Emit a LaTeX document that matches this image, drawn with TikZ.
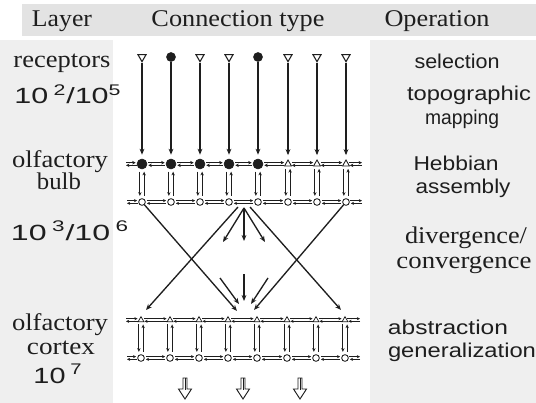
\documentclass[tikz,border=0pt]{standalone}
\usepackage{fontspec}
\usepackage{graphicx}
\setmainfont{Liberation Serif}
\setsansfont{Liberation Sans}
\usetikzlibrary{arrows.meta,shapes.geometric,calc}
\newlength\pxu \setlength\pxu{0.75pt}
\newcommand\fitw[2]{\resizebox{#1\pxu}{\height}{#2}}
\definecolor{ink}{HTML}{1E1E1E}
\definecolor{bandgray}{HTML}{E3E3E3}
\definecolor{panelgray}{HTML}{EFEFEF}
\tikzset{
  serif/.style={font=\fontsize{18}{18}\selectfont\rmfamily, text=ink, inner sep=0pt, anchor=base},
  sans/.style={font=\fontsize{15}{15}\selectfont\sffamily, text=ink, inner sep=0pt, anchor=base},
  num/.style={font=\fontsize{16.5}{16.5}\selectfont\sffamily, text=ink, inner sep=0pt, anchor=base},
  conn/.style={draw=ink, line width=1pt, -{Stealth[length=4.5pt,width=3.6pt]}},
  lat/.style={draw=ink, line width=0.75pt, -{Stealth[length=2.4pt,width=2.3pt]}},
  latH/.style={draw=ink, line width=1.05pt, -{Stealth[length=2.6pt,width=2.6pt]}},
  vpair/.style={draw=ink, line width=0.8pt, -{Stealth[length=2.8pt,width=2.5pt]}},
  rdot/.style={circle, fill=ink, draw=ink, inner sep=0pt, minimum size=6.75pt},
  rtri/.style={regular polygon, regular polygon sides=3, shape border rotate=180, draw=ink, fill=white, line width=0.8pt, inner sep=0pt, minimum size=7pt},
  fdot/.style={circle, fill=ink, draw=ink, inner sep=0pt, minimum size=7.5pt},
  odot/.style={circle, draw=ink, fill=white, line width=0.65pt, inner sep=0pt, minimum size=5pt},
  utri/.style={regular polygon, regular polygon sides=3, draw=ink, fill=white, line width=0.65pt, inner sep=0pt, minimum size=6pt},
  stri/.style={regular polygon, regular polygon sides=3, draw=ink, fill=white, line width=0.55pt, inner sep=0pt, minimum size=5pt},
  hollow/.style={draw=ink, line width=0.7pt, fill=white}
}
\begin{document}
\begin{tikzpicture}[x=0.75pt,y=-0.75pt]
% background
\fill[white] (0,0) rectangle (536,403);
\fill[bandgray] (22,4) rectangle (536,36);
\fill[panelgray] (0,40) rectangle (113,403);
\fill[panelgray] (370,40) rectangle (536,403);
\useasboundingbox (0,0) rectangle (536,403);

% header
\node[serif] (hLayer) at (62,27) {\fitw{60}{Layer}};
\node[serif] (hConn) at (238,27) {\fitw{173}{Connection type}};
\node[serif] (hOp) at (437,27) {\fitw{105}{Operation}};

% left column
\node[serif] (lRec) at (62,68) {\fitw{97}{receptors}};
\node[num] (lRecN) at (68,104) {\fitw{107}{10\,\textsuperscript{2}/10\textsuperscript{5}}};
\node[serif] (lOb1) at (60,167) {\fitw{96}{olfactory}};
\node[serif] (lOb2) at (59,190) {\fitw{44}{bulb}};
\node[num] (lObN) at (70,240) {\fitw{118}{10\,\textsuperscript{3}/10\,\textsuperscript{6}}};
\node[serif] (lOc1) at (60,330) {\fitw{96}{olfactory}};
\node[serif] (lOc2) at (61,354) {\fitw{68}{cortex}};
\node[num] (lOcN) at (58,383) {\fitw{49}{10\,\textsuperscript{7}}};

% right column
\node[sans] (rSel) at (457,69) {\fitw{85}{selection}};
\node[sans] (rTop1) at (469,101) {\fitw{124}{topographic}};
\node[sans] (rTop2) at (462,124) {\fitw{74}{mapping}};
\node[sans] (rHeb1) at (456,171) {\fitw{85}{Hebbian}};
\node[sans] (rHeb2) at (463,194) {\fitw{95}{assembly}};
\node[serif] (rDiv1) at (466,243) {\fitw{122}{divergence/}};
\node[serif] (rDiv2) at (464,268) {\fitw{135}{convergence}};
\node[sans] (rAbs1) at (448,334) {\fitw{120}{abstraction}};
\node[sans] (rAbs2) at (462,357) {\fitw{148}{generalization}};

% receptors, bulb and cortex nodes
\foreach \i/\x/\rs/\bs in {0/142/rtri/fdot,1/171/rdot/fdot,2/200/rtri/fdot,3/229/rtri/fdot,4/258/rdot/fdot,5/288/rtri/utri,6/317/rtri/utri,7/346/rtri/utri}{
  \node[\rs] (r\i) at (\x,57) {};
  \node[\bs] (bt\i) at (\x,164) {};
  \node[odot] (bb\i) at (\x,202) {};
  \node[stri] (ct\i) at (\x-1,320) {};
  \node[odot] (cb\i) at (\x-1,358) {};
}
% row ends
\coordinate (btL) at (126,164); \coordinate (btR) at (362,164);
\coordinate (bbL) at (127,202); \coordinate (bbR) at (362,202);
\coordinate (ctL) at (126,320); \coordinate (ctR) at (360,320);
\coordinate (cbL) at (127,358); \coordinate (cbR) at (360,358);

% receptor projections
\foreach \i in {0,...,7}{
  \draw[conn, shorten >=3pt] (r\i) -- (bt\i);
}

% lateral connections
\foreach \row/\st in {bt/latH,bb/lat,ct/lat,cb/lat}{
  \foreach \i/\j in {0/1,1/2,2/3,3/4,4/5,5/6,6/7}{
    \draw[\st, shorten <=0.8pt, shorten >=0.8pt] ([yshift=1pt]\row\i.east) -- ([yshift=1pt]\row\j.west);
    \draw[\st, shorten <=0.8pt, shorten >=0.8pt] ([yshift=-1pt]\row\j.west) -- ([yshift=-1pt]\row\i.east);
  }
  \draw[\st, shorten >=0.8pt] ([yshift=1pt]\row L) -- ([yshift=1pt]\row0.west);
  \draw[\st] ([yshift=-1pt]\row0.west) -- ([yshift=-1pt]\row L);
  \draw[\st] ([yshift=1pt]\row7.east) -- ([yshift=1pt]\row R);
  \draw[\st, shorten >=0.8pt] ([yshift=-1pt]\row R) -- ([yshift=-1pt]\row7.east);
}

% vertical reciprocal pairs
\foreach \i in {0,...,7}{
  \draw[vpair, shorten <=1.8pt, shorten >=1.8pt] ([xshift=-1.6pt]bt\i.south) -- ([xshift=-1.6pt]bb\i.north);
  \draw[vpair, shorten <=1.8pt, shorten >=1.8pt] ([xshift=1.6pt]bb\i.north) -- ([xshift=1.6pt]bt\i.south);
  \draw[vpair, shorten <=1.8pt, shorten >=1.8pt] ([xshift=-1.6pt]ct\i.south) -- ([xshift=-1.6pt]cb\i.north);
  \draw[vpair, shorten <=1.8pt, shorten >=1.8pt] ([xshift=1.6pt]cb\i.north) -- ([xshift=1.6pt]ct\i.south);
}

% divergence / convergence
\coordinate (hb) at (238,207);
\coordinate (hc) at (250,207);
\coordinate (hs) at (244,208);
\coordinate (aEnd) at (237,311);
\coordinate (bEnd) at (146,310);
\coordinate (cEnd) at (341,310);
\coordinate (dEnd) at (254,310);
\coordinate (s1) at (223,242);
\coordinate (s2) at (244,241);
\coordinate (s3) at (265,242);
\coordinate (u1) at (220,278); \coordinate (v1) at (239,304);
\coordinate (u2) at (244,274); \coordinate (v2) at (244,301);
\coordinate (u3) at (268,278); \coordinate (v3) at (251,304);

\draw[conn] (bb0) -- (aEnd);
\draw[conn] (hb) -- (bEnd);
\draw[conn] (hc) -- (cEnd);
\draw[conn] (bb7) -- (dEnd);
\draw[conn] (hs) -- (s1);
\draw[conn] (hs) -- (s2);
\draw[conn] (hs) -- (s3);
\draw[conn] (u1) -- (v1);
\draw[conn] (u2) -- (v2);
\draw[conn] (u3) -- (v3);

% hollow output arrows
\foreach \k/\x in {1/185,2/243,3/300}{
  \coordinate (h\k) at (\x,378);
  \draw[hollow] ($(h\k)+(-2,0)$) -- ($(h\k)+(2,0)$) -- ($(h\k)+(2,11)$) -- ($(h\k)+(6.5,11)$)
     -- ($(h\k)+(0,21)$) -- ($(h\k)+(-6.5,11)$) -- ($(h\k)+(-2,11)$) -- cycle;
  \draw[draw=ink, line width=0.5pt] ($(h\k)+(0,0)$) -- ($(h\k)+(0,12)$);
}
\end{tikzpicture}
\end{document}
